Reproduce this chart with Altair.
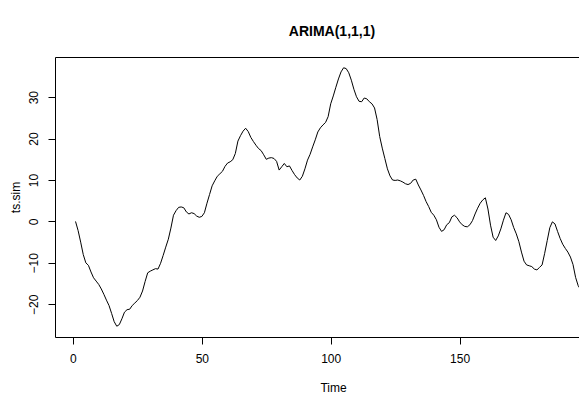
import altair as alt
import pandas as pd

# Simulated ARIMA(1,1,1) series (t = 1 .. 197)
time_idx = list(range(1, 198))
ts_sim = [
    0.0, -2.2, -5.0, -8.0, -10.0, -10.6, -12.2, -13.6, -14.4, -15.2,
    -16.3, -17.6, -19.0, -20.3, -22.2, -24.2, -25.3, -24.9, -23.5, -21.9,
    -21.3, -21.2, -20.3, -19.7, -19.1, -18.3, -16.8, -14.5, -12.4, -12.0,
    -11.7, -11.4, -11.5, -10.1, -8.2, -6.2, -4.3, -1.6, 1.5, 2.6,
    3.4, 3.5, 3.3, 2.3, 1.8, 2.1, 1.9, 1.3, 1.0, 1.2,
    2.1, 4.4, 6.5, 8.6, 9.8, 10.9, 11.5, 12.1, 13.3, 14.1,
    14.4, 14.9, 16.4, 19.4, 20.7, 21.8, 22.5, 21.7, 20.3, 19.3,
    18.4, 17.6, 17.1, 16.1, 15.0, 15.3, 15.4, 15.2, 14.5, 12.4,
    13.2, 14.0, 13.2, 13.4, 12.3, 11.3, 10.5, 10.0, 10.9, 12.7,
    14.8, 16.2, 18.0, 19.7, 21.6, 22.6, 23.3, 23.9, 25.3, 28.4,
    30.3, 32.4, 34.4, 36.1, 37.1, 36.9, 35.9, 34.1, 31.9, 30.1,
    29.0, 28.9, 29.8, 29.6, 28.9, 28.4, 27.4, 24.6, 20.5, 17.7,
    15.2, 12.7, 11.0, 10.0, 9.9, 10.0, 9.8, 9.5, 9.1, 8.9,
    9.2, 10.0, 10.2, 8.8, 7.6, 6.3, 4.8, 3.6, 2.2, 1.5,
    0.4, -1.4, -2.4, -2.0, -0.8, -0.3, 1.1, 1.5, 0.9, -0.1,
    -0.8, -1.2, -1.3, -0.8, 0.2, 1.8, 3.2, 4.4, 5.2, 5.7,
    3.0, -0.9, -3.8, -4.6, -3.5, -1.8, 0.3, 2.1, 1.7, 0.4,
    -1.5, -3.0, -4.9, -7.4, -9.6, -10.5, -10.7, -10.9, -11.5, -11.7,
    -11.1, -10.5, -7.7, -4.6, -1.5, -0.1, -0.6, -2.4, -4.1, -5.5,
    -6.5, -7.4, -8.6, -10.4, -13.5, -15.5, -16.5,
]

x_ticks = [0, 50, 100, 150, 200]
y_ticks = [-20, -10, 0, 10, 20, 30]

df = pd.DataFrame({"Time": time_idx, "ts_sim": ts_sim})

FONT = "Liberation Sans"

chart = (
    alt.Chart(df)
    .mark_line(color="black", strokeWidth=1)
    .encode(
        x=alt.X(
            "Time:Q",
            scale=alt.Scale(domain=[-6.96, 207.96], nice=False, zero=False),
            axis=alt.Axis(
                values=x_ticks,
                title="Time",
                grid=False,
                domain=False,
                tickSize=7,
                tickColor="black",
                labelColor="black",
                labelFont=FONT,
                labelFontSize=12,
                labelBaseline="alphabetic",
                labelPadding=18.5,
                labelFlush=False,
                labelOverlap=False,
                labelBound=False,
                titleFont=FONT,
                titleFontSize=12,
                titleFontWeight="normal",
                titleColor="black",
                titleBaseline="alphabetic",
                titleAlign="center",
                titleX=278,
                titleY=54,
            ),
        ),
        y=alt.Y(
            "ts_sim:Q",
            scale=alt.Scale(domain=[-27.9, 39.7], nice=False, zero=False),
            axis=alt.Axis(
                values=y_ticks,
                title="ts.sim",
                grid=False,
                domain=False,
                tickSize=7,
                tickColor="black",
                labelColor="black",
                labelFont=FONT,
                labelFontSize=12,
                labelAngle=270,
                labelAlign="center",
                labelBaseline="alphabetic",
                labelPadding=10.5,
                labelFlush=False,
                labelOverlap=False,
                labelBound=False,
                titleFont=FONT,
                titleFontSize=12,
                titleFontWeight="normal",
                titleColor="black",
                titleAngle=270,
                titleAlign="center",
                titleBaseline="alphabetic",
                titleX=-36,
                titleY=140,
            ),
        ),
    )
    .properties(
        width=554,
        height=280,
        title=alt.TitleParams(
            "ARIMA(1,1,1)",
            font=FONT,
            fontSize=14,
            fontWeight="bold",
            color="black",
            anchor="middle",
            baseline="alphabetic",
            offset=7,
        ),
        autosize=alt.AutoSizeParams(type="none"),
        padding={"left": 55, "top": 57, "right": -30, "bottom": 60},
        background="white",
    )
    .configure_view(stroke="black", strokeWidth=1)
)

chart.save("out.html", embed_options={"renderer": "svg", "actions": False})
